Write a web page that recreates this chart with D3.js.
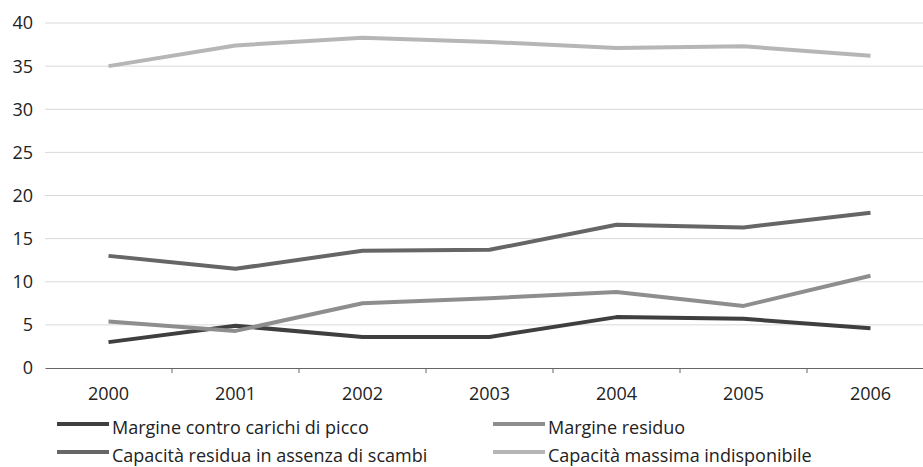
<!DOCTYPE html>
<html><head><meta charset="utf-8">
<script src="https://cdn.jsdelivr.net/npm/d3@7"></script>
<style>body{margin:0;background:#fff;} svg{display:block;} text{font-family:"Open Sans",sans-serif;fill:#222;}</style>
</head><body><svg id="c" width="923" height="467"></svg>
<script>
const years = ["2000","2001","2002","2003","2004","2005","2006"];
const yTicks = [0,5,10,15,20,25,30,35,40];
const seriesNames = ["Margine contro carichi di picco","Margine residuo","Capacità residua in assenza di scambi","Capacità massima indisponibile"];
const margineContro = [3.0,4.9,3.6,3.6,5.9,5.7,4.6];
const margineResiduo = [5.4,4.3,7.5,8.1,8.8,7.2,10.7];
const capacitaResidua = [13.0,11.5,13.6,13.7,16.6,16.3,18.0];
const capacitaMassima = [35.0,37.4,38.3,37.8,37.1,37.3,36.2];
const colors = ["#3f3f3f","#8e8e8e","#666666","#b6b6b6"];
const allSeries = [margineContro, margineResiduo, capacitaResidua, capacitaMassima];

const svg = d3.select("#c");
const x = d3.scaleBand().domain(years).range([45, 934]);
const y = d3.scaleLinear().domain([0,40]).range([368, 23]);

// gridlines
svg.append("g").selectAll("line").data(yTicks.filter(d=>d>0)).join("line")
  .attr("x1",45).attr("x2",923).attr("y1",d=>y(d)).attr("y2",d=>y(d))
  .attr("stroke","#d9d9d9").attr("stroke-width",1);

// y labels
svg.append("g").selectAll("text").data(yTicks).join("text")
  .attr("x",33).attr("y",d=>y(d)).attr("dy","0.36em").attr("text-anchor","end")
  .style("font-size","18px").text(d=>d);

// x axis
const xAxis = svg.append("g").attr("transform","translate(0,368)")
  .call(d3.axisBottom(x).tickSize(0).tickPadding(19));
xAxis.select(".domain").attr("stroke","#666").attr("stroke-width",1.2);
xAxis.selectAll("text").style("font-size","18px").style("font-family",'"Open Sans",sans-serif').attr("fill","#222");
// boundary ticks
svg.append("g").selectAll("line").data(years.slice(1)).join("line")
  .attr("x1",d=>x(d)).attr("x2",d=>x(d)).attr("y1",368).attr("y2",373)
  .attr("stroke","#666").attr("stroke-width",1);

const line = d3.line().x((d,i)=>x(years[i])+x.bandwidth()/2).y(d=>y(d));
svg.append("g").selectAll("path").data(allSeries).join("path")
  .attr("d",d=>line(d)).attr("fill","none")
  .attr("stroke",(d,i)=>colors[i]).attr("stroke-width",4).attr("stroke-linejoin","round");

// legend
const legPos = [[57,424],[493,424],[57,452],[493,452]];
const lg = svg.append("g").selectAll("g").data(seriesNames).join("g")
  .attr("transform",(d,i)=>`translate(${legPos[i][0]},${legPos[i][1]})`);
lg.append("line").attr("x1",0).attr("x2",52).attr("y1",0).attr("y2",0)
  .attr("stroke",(d,i)=>colors[i]).attr("stroke-width",4);
lg.append("text").attr("x",55).attr("y",10).style("font-size","18px").text(d=>d);
</script></body></html>
